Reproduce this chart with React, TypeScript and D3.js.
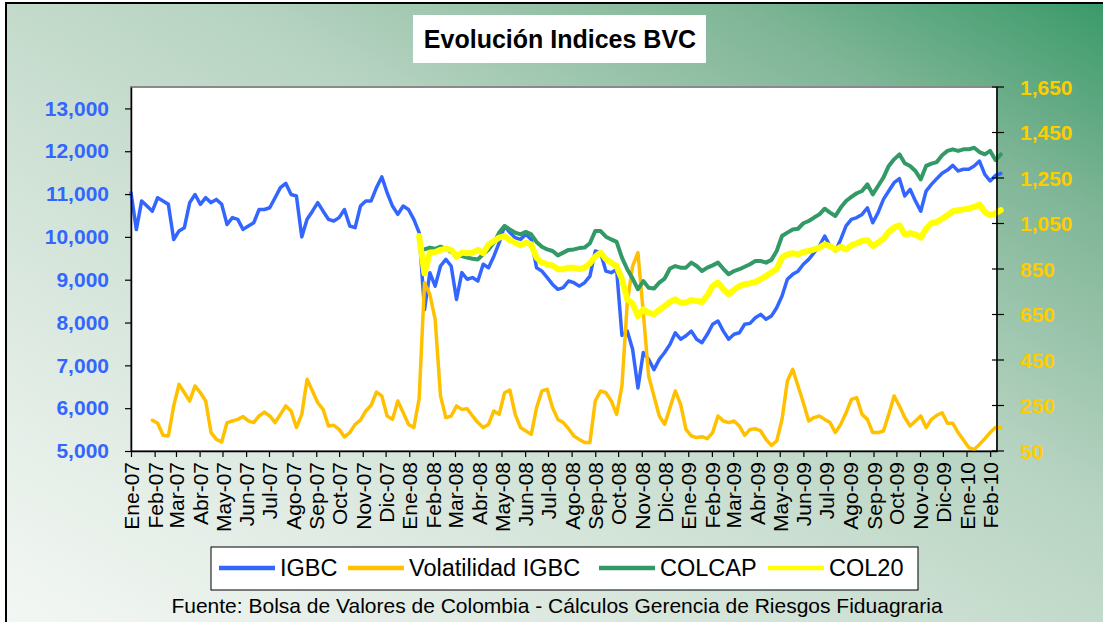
import React, { useEffect, useRef } from 'react';
import * as d3 from 'd3';

const W = 1103;
const H = 622;

// weekly samples starting Monday 1 Jan 2007 (week index -> date)
const firstWeek = new Date(2007, 0, 1);

const tickLabels = [
  "Ene-07", "Feb-07", "Mar-07", "Abr-07", "May-07", "Jun-07", "Jul-07", "Ago-07", "Sep-07", "Oct-07", "Nov-07", "Dic-07",
  "Ene-08", "Feb-08", "Mar-08", "Abr-08", "May-08", "Jun-08", "Jul-08", "Ago-08", "Sep-08", "Oct-08", "Nov-08", "Dic-08",
  "Ene-09", "Feb-09", "Mar-09", "Abr-09", "May-09", "Jun-09", "Jul-09", "Ago-09", "Sep-09", "Oct-09", "Nov-09", "Dic-09",
  "Ene-10", "Feb-10",
];

const leftTicks = [5000, 6000, 7000, 8000, 9000, 10000, 11000, 12000, 13000];
const rightTicks = [50, 250, 450, 650, 850, 1050, 1250, 1450, 1650];

// IGBC, from week 0
const igbc = [
  11030, 10170, 10840, 10720, 10600, 10915, 10840, 10760, 9940, 10140,
  10215, 10800, 10990, 10760, 10915, 10800, 10875, 10760, 10290, 10450,
  10410, 10175, 10255, 10330, 10640, 10640, 10680, 10915, 11150, 11250,
  10990, 10955, 10000, 10410, 10600, 10800, 10600, 10410, 10370, 10450,
  10640, 10255, 10215, 10720, 10840, 10840, 11150, 11400, 11030, 10720,
  10525, 10720, 10640, 10410, 10100, 8300, 9165, 8850, 9320, 9475,
  9320, 8540, 9165, 9010, 9050, 8970, 9360, 9280, 9550, 9865,
  10255, 10100, 9980, 9940, 10060, 9940, 9280, 9200, 9050, 8890,
  8775, 8815, 8970, 8930, 8850, 8930, 9085, 9670, 9630, 9200,
  9165, 9240, 7700, 7800, 7375, 6470, 7300, 7140, 6900, 7140,
  7300, 7490, 7760, 7610, 7690, 7800, 7610, 7530, 7725, 7960,
  8035, 7800, 7610, 7725, 7760, 7960, 7980, 8110, 8190, 8075,
  8150, 8345, 8620, 9010, 9125, 9200, 9360, 9475, 9630, 9785,
  10020, 9785, 9670, 9940, 10255, 10410, 10450, 10525, 10680, 10330,
  10565, 10875, 11070, 11265, 11360, 10955, 11110, 10840, 10600, 11070,
  11225, 11360, 11485, 11560, 11670, 11540, 11580, 11580, 11655, 11770,
  11460, 11305, 11435, 11480,
];

// Volatilidad IGBC, from week 4
const volStart = 4;
const volatilidad = [
  185, 172, 119, 116, 248, 343, 306, 270, 336, 306,
  270, 131, 101, 90, 175, 182, 189, 201, 182, 175,
  204, 221, 204, 175, 211, 248, 226, 153, 211, 365,
  314, 262, 233, 160, 163, 145, 112, 131, 167, 186,
  226, 251, 309, 292, 204, 189, 270, 219, 167, 153,
  280, 790, 739, 629, 292, 197, 204, 248, 233, 236,
  204, 175, 153, 167, 226, 211, 306, 318, 211, 153,
  138, 123, 240, 314, 321, 240, 189, 175, 148, 116,
  101, 87, 87, 270, 314, 306, 270, 211, 336, 702,
  863, 922, 658, 380, 292, 204, 167, 240, 314, 255,
  145, 116, 109, 113, 104, 131, 204, 182, 175, 182,
  160, 119, 145, 148, 138, 101, 75, 94, 189, 358,
  409, 336, 262, 182, 197, 204, 189, 175, 131, 167,
  218, 277, 284, 211, 189, 131, 131, 138, 211, 292,
  248, 197, 160, 182, 204, 153, 189, 207, 218, 172,
  172, 131, 98, 65, 57, 79, 104, 131, 153, 153,
];

// COLCAP, from week 55
const colcapStart = 55;
const colcap = [
  936, 944, 939, 948, 939, 925, 915, 907, 900, 895,
  892, 915, 936, 966, 1010, 1039, 1024, 1010, 1002, 1013,
  1002, 969, 948, 936, 929, 910, 922, 934, 936, 942,
  944, 963, 1017, 1017, 992, 980, 969, 900, 849, 808,
  761, 797, 768, 764, 790, 808, 852, 863, 856, 856,
  878, 863, 841, 856, 866, 878, 851, 827, 841, 849,
  860, 871, 885, 885, 878, 890, 929, 995, 1010, 1024,
  1027, 1051, 1061, 1076, 1090, 1115, 1098, 1083, 1120, 1149,
  1167, 1183, 1193, 1222, 1178, 1215, 1252, 1303, 1332, 1354,
  1315, 1303, 1281, 1244, 1303, 1313, 1320, 1350, 1369, 1376,
  1369, 1376, 1376, 1383, 1364, 1354, 1369, 1329, 1354,
];

// COL20, from week 54
const col20Start = 54;
const col20 = [
  995, 830, 922, 925, 934, 939, 934, 904, 922, 919,
  922, 934, 919, 958, 973, 988, 995, 977, 966, 954,
  966, 958, 900, 878, 871, 866, 849, 849, 856, 856,
  849, 856, 875, 904, 922, 893, 878, 863, 805, 717,
  699, 643, 673, 658, 651, 670, 687, 705, 717, 702,
  702, 714, 709, 705, 734, 775, 790, 761, 739, 758,
  775, 783, 787, 793, 805, 819, 834, 851, 900, 914,
  919, 914, 925, 929, 936, 944, 958, 951, 934, 948,
  936, 954, 963, 973, 977, 951, 966, 983, 1013, 1032,
  1042, 1002, 1007, 1002, 988, 1027, 1051, 1057, 1071, 1086,
  1104, 1108, 1112, 1115, 1123, 1133, 1101, 1086, 1095, 1109,
];

const FONT = "'Liberation Sans', Arial, sans-serif";

const series = [
  { name: "IGBC", values: igbc, start: 0, axis: "left", color: "#3366FF", width: 3.5 },
  { name: "Volatilidad IGBC", values: volatilidad, start: volStart, axis: "right", color: "#FFC000", width: 3.5 },
  { name: "COLCAP", values: colcap, start: colcapStart, axis: "right", color: "#339966", width: 4 },
  { name: "COL20", values: col20, start: col20Start, axis: "right", color: "#FFFF00", width: 6 },
];

export default function App() {
  const svgRef = useRef<SVGSVGElement>(null);

  useEffect(() => {
    if (!svgRef.current) return;
    const svg = d3.select(svgRef.current);
    svg.selectAll("*").remove();

    const left = 131, right = 997, top = 87, bottom = 451;

    // background gradient
    const defs = svg.append("defs");
    const grad = defs.append("linearGradient")
      .attr("id", "bg")
      .attr("x1", 1).attr("y1", 0).attr("x2", 0).attr("y2", 1);
    [[0, "#359866"], [0.18, "#80b697"], [0.4, "#b6d3c1"], [0.55, "#c9ded0"], [0.8, "#e3ede6"], [1, "#f5f8f5"]]
      .forEach(([o, c]) => grad.append("stop").attr("offset", o as number).attr("stop-color", c as string));

    svg.append("rect").attr("width", W).attr("height", H).attr("fill", "#ffffff");
    svg.append("rect")
      .attr("x", 6).attr("y", 3).attr("width", W + 20).attr("height", H + 20)
      .attr("fill", "url(#bg)").attr("stroke", "#000").attr("stroke-width", 2);

    // title
    svg.append("rect").attr("x", 413).attr("y", 15).attr("width", 293).attr("height", 48).attr("fill", "#fff");
    svg.append("text")
      .attr("x", 560).attr("y", 48).attr("text-anchor", "middle")
      .attr("font-family", FONT).attr("font-size", 25).attr("font-weight", "bold")
      .text("Evolución Indices BVC");

    // scales
    const x = d3.scaleTime()
      .domain([new Date(2007, 0, 1), new Date(2010, 1, 10)])
      .range([left, right]);
    const yLeft = d3.scaleLinear().domain([5000, 13500]).range([bottom, top]);
    const yRight = d3.scaleLinear().domain([50, 1650]).range([bottom, top]);

    // plot area
    svg.append("rect")
      .attr("x", left).attr("y", top).attr("width", right - left).attr("height", bottom - top)
      .attr("fill", "#fff").attr("stroke", "#8a8a8a").attr("stroke-width", 2);

    // series
    const weekDate = (i: number) => d3.timeDay.offset(firstWeek, 7 * i);
    series.forEach(s => {
      const yScale = s.axis === "left" ? yLeft : yRight;
      const line = d3.line<number>()
        .x((d, i) => x(weekDate(s.start + i)))
        .y(d => yScale(d));
      svg.append("path")
        .datum(s.values)
        .attr("fill", "none")
        .attr("stroke", s.color)
        .attr("stroke-width", s.width)
        .attr("stroke-linejoin", "round")
        .attr("stroke-linecap", "round")
        .attr("d", line);
    });

    // left axis
    const gl = svg.append("g").attr("transform", `translate(${left},0)`)
      .call(d3.axisLeft(yLeft).tickValues(leftTicks).tickFormat(d3.format(",")).tickSize(6).tickSizeOuter(0));
    gl.select(".domain").attr("stroke", "#000").attr("stroke-width", 1.5);
    gl.selectAll(".tick line").attr("stroke", "#000").attr("stroke-width", 1.2);
    gl.selectAll(".tick text")
      .attr("x", -22)
      .attr("fill", "#3366FF").attr("font-family", FONT).attr("font-size", 21).attr("font-weight", "bold");

    // right axis (ticks cross the line)
    const gr = svg.append("g");
    gr.append("line").attr("x1", right).attr("x2", right).attr("y1", top).attr("y2", bottom)
      .attr("stroke", "#000").attr("stroke-width", 1.5);
    gr.selectAll("line.tk").data(rightTicks).enter().append("line")
      .attr("class", "tk")
      .attr("x1", right - 5).attr("x2", right + 7)
      .attr("y1", d => yRight(d)).attr("y2", d => yRight(d))
      .attr("stroke", "#000").attr("stroke-width", 1.2);
    gr.selectAll("text").data(rightTicks).enter().append("text")
      .attr("x", 1020).attr("y", d => yRight(d)).attr("dy", "0.36em")
      .attr("fill", "#FFCC00").attr("font-family", FONT).attr("font-size", 21).attr("font-weight", "bold")
      .text(d => d3.format(",")(d));

    // bottom axis
    const months = d3.timeMonth.range(new Date(2007, 0, 1), new Date(2010, 1, 2));
    const gb = svg.append("g").attr("transform", `translate(0,${bottom})`)
      .call(d3.axisBottom(x).tickValues(months).tickFormat((d, i) => tickLabels[i]).tickSize(6).tickSizeOuter(0));
    gb.select(".domain").attr("stroke", "#000").attr("stroke-width", 1.5);
    gb.selectAll(".tick line").attr("stroke", "#000").attr("stroke-width", 1.2);
    gb.selectAll(".tick text")
      .attr("transform", "rotate(-90)")
      .attr("text-anchor", "end")
      .attr("x", -11).attr("y", 0).attr("dy", "0.36em")
      .attr("fill", "#000").attr("font-family", FONT).attr("font-size", 21);

    // legend
    const lg = svg.append("g");
    lg.append("rect").attr("x", 211).attr("y", 547).attr("width", 707).attr("height", 43)
      .attr("fill", "#fff").attr("stroke", "#000").attr("stroke-width", 1);
    const legendPos = [219, 348, 599, 768];
    series.forEach((s, i) => {
      lg.append("line")
        .attr("x1", legendPos[i]).attr("x2", legendPos[i] + 56)
        .attr("y1", 568).attr("y2", 568)
        .attr("stroke", s.color).attr("stroke-width", 4.5);
      lg.append("text")
        .attr("x", legendPos[i] + 61).attr("y", 576)
        .attr("font-family", FONT).attr("font-size", 23.5)
        .text(s.name);
    });

    // source
    svg.append("text")
      .attr("x", 557).attr("y", 613).attr("text-anchor", "middle")
      .attr("font-family", FONT).attr("font-size", 21)
      .text("Fuente: Bolsa de Valores de Colombia - Cálculos Gerencia de Riesgos Fiduagraria");
  }, []);

  return (
    <div style={{ position: "fixed", left: 0, top: 0, width: W, height: H, overflow: "hidden" }}>
      <svg ref={svgRef} width={W} height={H} />
    </div>
  );
}
